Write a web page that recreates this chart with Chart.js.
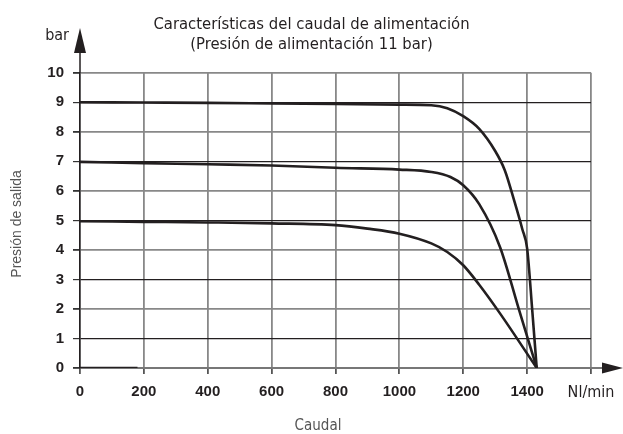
<!DOCTYPE html>
<html>
<head>
<meta charset="utf-8">
<script src="https://cdn.jsdelivr.net/npm/chart.js@4"></script>
<style>
  html, body { margin: 0; padding: 0; background: #fff; }
  #wrap { width: 623px; height: 434px; }
</style>
</head>
<body>
<div id="wrap"><canvas id="flowChart" width="623" height="434"></canvas></div>
<script>
// Caudal (Nl/min) and presión de salida (bar)
const flow9 = [0, 200, 400, 600, 800, 1000, 1100, 1150, 1200, 1250, 1300, 1330, 1360, 1385, 1400, 1416, 1430];
const pres9 = [9.0, 8.99, 8.98, 8.96, 8.94, 8.92, 8.9, 8.8, 8.53, 8.1, 7.35, 6.7, 5.65, 4.7, 4.05, 1.96, 0];

const flow7 = [0, 200, 400, 600, 800, 1000, 1100, 1160, 1200, 1250, 1315, 1375, 1430];
const pres7 = [6.98, 6.94, 6.9, 6.86, 6.78, 6.72, 6.64, 6.47, 6.19, 5.55, 4.1, 1.96, 0];

const flow5 = [0, 200, 400, 600, 800, 900, 1000, 1100, 1150, 1200, 1250, 1315, 1430];
const pres5 = [4.97, 4.95, 4.93, 4.9, 4.84, 4.72, 4.55, 4.22, 3.93, 3.48, 2.82, 1.85, 0];

const flowBase = [0, 180];
const presBase = [0, 0];

const xTicks = [0, 200, 400, 600, 800, 1000, 1200, 1400, 1600];
const xUnit = 'Nl/min';
const yUnit = 'bar';

const titleLines = ['Características del caudal de alimentación', '(Presión de alimentación 11 bar)'];
const xTitle = 'Caudal';
const yTitle = 'Presión de salida';

const condensed = '"DejaVu Sans Condensed", "DejaVu Sans", sans-serif';
const tickFont = { family: '"Liberation Sans", Arial, sans-serif', size: 15, weight: 'bold' };

function toPoints(xs, ys) {
  return xs.map((x, i) => ({ x, y: ys[i] }));
}

function curve(xs, ys) {
  return {
    data: toPoints(xs, ys),
    borderColor: '#231f20',
    borderWidth: 2.6,
    pointRadius: 0,
    fill: false,
    cubicInterpolationMode: 'monotone'
  };
}

// arrows on the axes, "bar" unit and the two axis titles
const axisDecor = {
  id: 'axisDecor',
  afterDraw(chart) {
    const { ctx, chartArea: a } = chart;
    ctx.save();
    ctx.fillStyle = '#231f20';
    ctx.strokeStyle = '#231f20';

    // y axis extension and arrow
    ctx.lineWidth = 1.5;
    ctx.beginPath();
    ctx.moveTo(a.left, a.top);
    ctx.lineTo(a.left, 50);
    ctx.stroke();
    ctx.beginPath();
    ctx.moveTo(a.left, 28);
    ctx.lineTo(a.left - 6, 53);
    ctx.lineTo(a.left + 6, 53);
    ctx.closePath();
    ctx.fill();

    // x axis extension and arrow
    ctx.strokeStyle = '#777';
    ctx.lineWidth = 2;
    ctx.beginPath();
    ctx.moveTo(a.right, a.bottom);
    ctx.lineTo(605, a.bottom);
    ctx.stroke();
    ctx.beginPath();
    ctx.moveTo(623, a.bottom);
    ctx.lineTo(602, a.bottom - 5.5);
    ctx.lineTo(602, a.bottom + 5.5);
    ctx.closePath();
    ctx.fill();

    ctx.font = '16px ' + condensed;
    ctx.textAlign = 'right';
    ctx.textBaseline = 'alphabetic';
    ctx.fillText(yUnit, 69, 40);

    ctx.fillStyle = '#555';
    ctx.font = '15px ' + condensed;
    ctx.textAlign = 'center';
    ctx.fillText(xTitle, 318, 430);

    ctx.font = '14px "Liberation Sans", Arial, sans-serif';
    ctx.translate(17, 224);
    ctx.rotate(-Math.PI / 2);
    ctx.textBaseline = 'middle';
    ctx.fillText(yTitle, 0, 0);
    ctx.restore();
  }
};

new Chart(document.getElementById('flowChart'), {
  type: 'line',
  data: {
    datasets: [
      curve(flow9, pres9),
      curve(flow7, pres7),
      curve(flow5, pres5),
      curve(flowBase, presBase)
    ]
  },
  options: {
    responsive: false,
    animation: false,
    layout: { padding: 0 },
    plugins: {
      legend: { display: false },
      tooltip: { enabled: false },
      title: {
        display: true,
        text: titleLines,
        color: '#231f20',
        font: { family: condensed, size: 16.5, weight: 'normal', lineHeight: 1.25 },
        padding: { top: 14, bottom: 17.5 }
      }
    },
    scales: {
      x: {
        type: 'linear',
        min: 0,
        max: 1600,
        afterFit: s => { s.height = 66; s.paddingRight = 32; },
        afterBuildTicks: s => { s.ticks = xTicks.map(v => ({ value: v })); },
        border: { color: '#777', width: 2 },
        grid: { color: '#888', lineWidth: 1.8, tickLength: 6, tickColor: '#555' },
        ticks: {
          padding: 9,
          color: '#231f20',
          font: ctx => ctx.tick && ctx.tick.value === 1600
            ? { family: condensed, size: 16, weight: 'normal' }
            : tickFont,
          callback: v => v === 1600 ? xUnit : String(v)
        }
      },
      y: {
        min: 0,
        max: 10,
        afterFit: s => { s.width = 80; },
        border: { color: '#231f20', width: 1.5 },
        grid: {
          color: ctx => ctx.tick && ctx.tick.value % 2 === 1 ? '#231f20' : '#888',
          lineWidth: ctx => ctx.tick && ctx.tick.value % 2 === 1 ? 1.2 : 1.8,
          tickLength: 7,
          tickColor: '#333'
        },
        ticks: { stepSize: 1, padding: 9, color: '#231f20', font: tickFont }
      }
    }
  },
  plugins: [axisDecor]
});
</script>
</body>
</html>
